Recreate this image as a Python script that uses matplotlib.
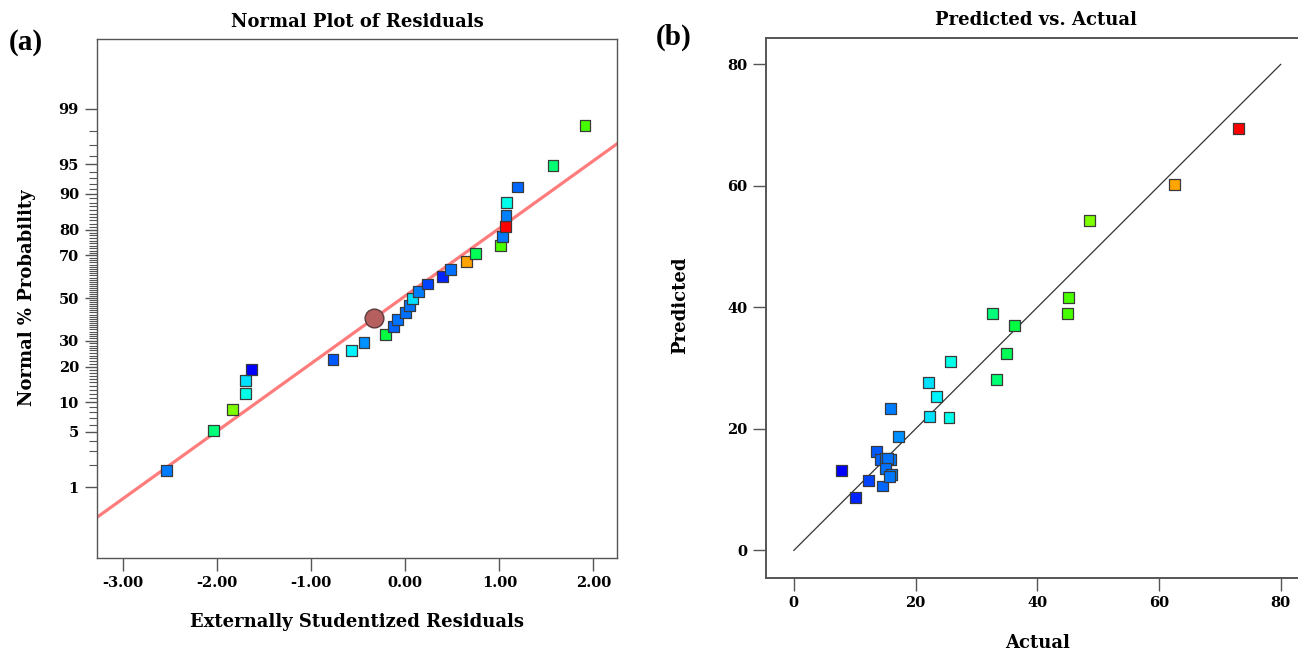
import numpy as np
import matplotlib
matplotlib.use('Agg')
import matplotlib.pyplot as plt
from matplotlib.colors import LinearSegmentedColormap, Normalize
from statistics import NormalDist

plt.rcParams['font.family'] = 'DejaVu Serif'
plt.rcParams['font.weight'] = 'bold'
plt.rcParams['axes.unicode_minus'] = False

# --- (a) normal plot of residuals, sorted by residual ---
resid = [-2.54, -2.04, -1.84, -1.70, -1.70, -1.64, -0.77, -0.57, -0.44, -0.21,
         -0.13, -0.08, 0.00, 0.04, 0.08, 0.135, 0.24, 0.39, 0.48, 0.65,
         0.75, 1.01, 1.03, 1.06, 1.07, 1.08, 1.19, 1.57, 1.91]
resid_prob = [1.7, 5.2, 8.6, 12.1, 15.5, 19.0, 22.4, 25.9, 29.3, 32.8,
              36.2, 39.7, 43.1, 46.6, 50.0, 53.4, 56.9, 60.3, 63.8, 67.2,
              70.7, 74.1, 77.6, 81.0, 84.5, 87.9, 91.4, 94.8, 98.3]
# actual response of each run, used for colouring
resid_actual = [15.9, 32.7, 48.6, 25.7, 22.2, 7.8, 13.6, 23.5, 17.2, 36.3,
                14.3, 15.2, 15.0, 15.4, 22.3, 15.9, 12.3, 10.2, 15.1, 62.6,
                35.0, 45.2, 15.7, 73.1, 16.1, 25.5, 14.6, 33.3, 45.0]
marked_x, marked_p = -0.33, 40.5
fit_mean, fit_sd = -0.034, 1.205

prob_ticks = [1, 5, 10, 20, 30, 50, 70, 80, 90, 95, 99]
resid_ticks = [-3, -2, -1, 0, 1, 2]

# --- (b) predicted vs actual ---
actual = [7.8, 10.2, 12.3, 13.6, 14.6, 14.3, 15.2, 15.9, 15.0, 15.4,
          15.1, 16.1, 15.7, 15.9, 17.2, 22.2, 23.5, 22.3, 25.7, 25.5,
          32.7, 36.3, 35.0, 33.3, 45.0, 45.2, 48.6, 62.6, 73.1]
predicted = [13.1, 8.7, 11.5, 16.2, 10.6, 15.0, 15.0, 15.0, 15.1, 15.2,
             13.5, 12.5, 12.1, 23.3, 18.7, 27.6, 25.4, 22.1, 31.1, 21.8,
             39.0, 37.0, 32.4, 28.2, 39.0, 41.7, 54.3, 60.3, 69.4]
ident = [0, 80]
pred_ticks = [0, 20, 40, 60, 80]

cmap = LinearSegmentedColormap.from_list(
    'runs', ['#0000ff', '#00ffff', '#00ff00', '#ffff00', '#ff0000'])
norm = Normalize(min(actual), max(actual))

nd = NormalDist()


def prob_to_z(p):
    p = np.clip(np.asarray(p, dtype=float), 1e-6, 100 - 1e-6)
    return np.vectorize(nd.inv_cdf, otypes=[float])(p / 100.0)


def z_to_prob(z):
    return np.vectorize(nd.cdf, otypes=[float])(np.asarray(z, dtype=float)) * 100.0


spine_col = '#555555'
tick_fs = 10.5
label_fs = 13
fig = plt.figure(figsize=(12.98, 6.53), dpi=100)

ax1 = fig.add_axes([0.0747, 0.1459, 0.4006, 0.7951])
ax1.set_yscale('function', functions=(prob_to_z, z_to_prob))
ax1.set_xlim(-3.28, 2.25)
ax1.set_ylim(nd.cdf(-3.19) * 100, nd.cdf(3.19) * 100)

line_x = np.array(ax1.get_xlim())
line_p = z_to_prob((line_x - fit_mean) / fit_sd)
ax1.plot(line_x, line_p, color='#ff7c7c', lw=2.3, zorder=2)
ax1.scatter(resid, resid_prob, c=resid_actual, cmap=cmap, norm=norm, marker='s',
            s=62, edgecolors='#3a3a3a', linewidths=0.9, zorder=3)
ax1.plot([marked_x], [marked_p], 'o', ms=13.5, mfc='#b65f5f', mec='#5a3a3a',
         mew=1.0, zorder=4)

ax1.set_yticks(prob_ticks)
ax1.set_yticklabels([str(t) for t in prob_ticks])
ax1.set_yticks([v for v in range(2, 99) if v not in prob_ticks], minor=True)
ax1.set_xticks(resid_ticks)
ax1.set_xticklabels(['%.2f' % t for t in resid_ticks])
ax1.tick_params(which='major', length=9, width=1.0, color=spine_col,
                labelsize=tick_fs, pad=4)
ax1.tick_params(which='minor', length=5.5, width=0.8, color=spine_col)
for sp in ax1.spines.values():
    sp.set_color(spine_col)
    sp.set_linewidth(1.0)

ax1.set_title('Normal Plot of Residuals', fontsize=label_fs, fontweight='bold',
              y=1.032, pad=0, va='center')
ax1.set_xlabel('Externally Studentized Residuals', fontsize=label_fs, fontweight='bold')
ax1.xaxis.set_label_coords(0.5, -0.124)
ax1.xaxis.label.set_va('center')
ax1.set_ylabel('Normal % Probability', fontsize=label_fs, fontweight='bold')
ax1.yaxis.set_label_coords(-0.135, 0.5)
ax1.yaxis.label.set_va('center')

ax2 = fig.add_axes([0.5905, 0.1153, 0.4149, 0.8270])
ax2.set_xlim(-4.5, 84.0)
ax2.set_ylim(-4.5, 84.4)
ax2.plot(ident, ident, color='#333333', lw=0.9, zorder=2)
ax2.scatter(actual, predicted, c=actual, cmap=cmap, norm=norm, marker='s',
            s=62, edgecolors='#3a3a3a', linewidths=0.9, zorder=3)
ax2.set_xticks(pred_ticks)
ax2.set_yticks(pred_ticks)
ax2.tick_params(length=9.5, width=1.0, color=spine_col, labelsize=tick_fs, pad=4)
for sp in ax2.spines.values():
    sp.set_color(spine_col)
    sp.set_linewidth(1.4)

ax2.set_title('Predicted vs. Actual', fontsize=label_fs, fontweight='bold',
              y=1.033, pad=0, va='center')
ax2.set_xlabel('Actual', fontsize=label_fs, fontweight='bold')
ax2.xaxis.set_label_coords(0.504, -0.121)
ax2.xaxis.label.set_va('center')
ax2.set_ylabel('Predicted', fontsize=label_fs, fontweight='bold')
ax2.yaxis.set_label_coords(-0.161, 0.505)
ax2.yaxis.label.set_va('center')

fig.text(26 / 1298, 1 - 43 / 653, '(a)', fontsize=21, fontweight='bold',
         family='Liberation Serif', ha='center', va='center')
fig.text(674 / 1298, 1 - 37 / 653, '(b)', fontsize=21, fontweight='bold',
         family='Liberation Serif', ha='center', va='center')

fig.savefig('out.png', dpi=100)
